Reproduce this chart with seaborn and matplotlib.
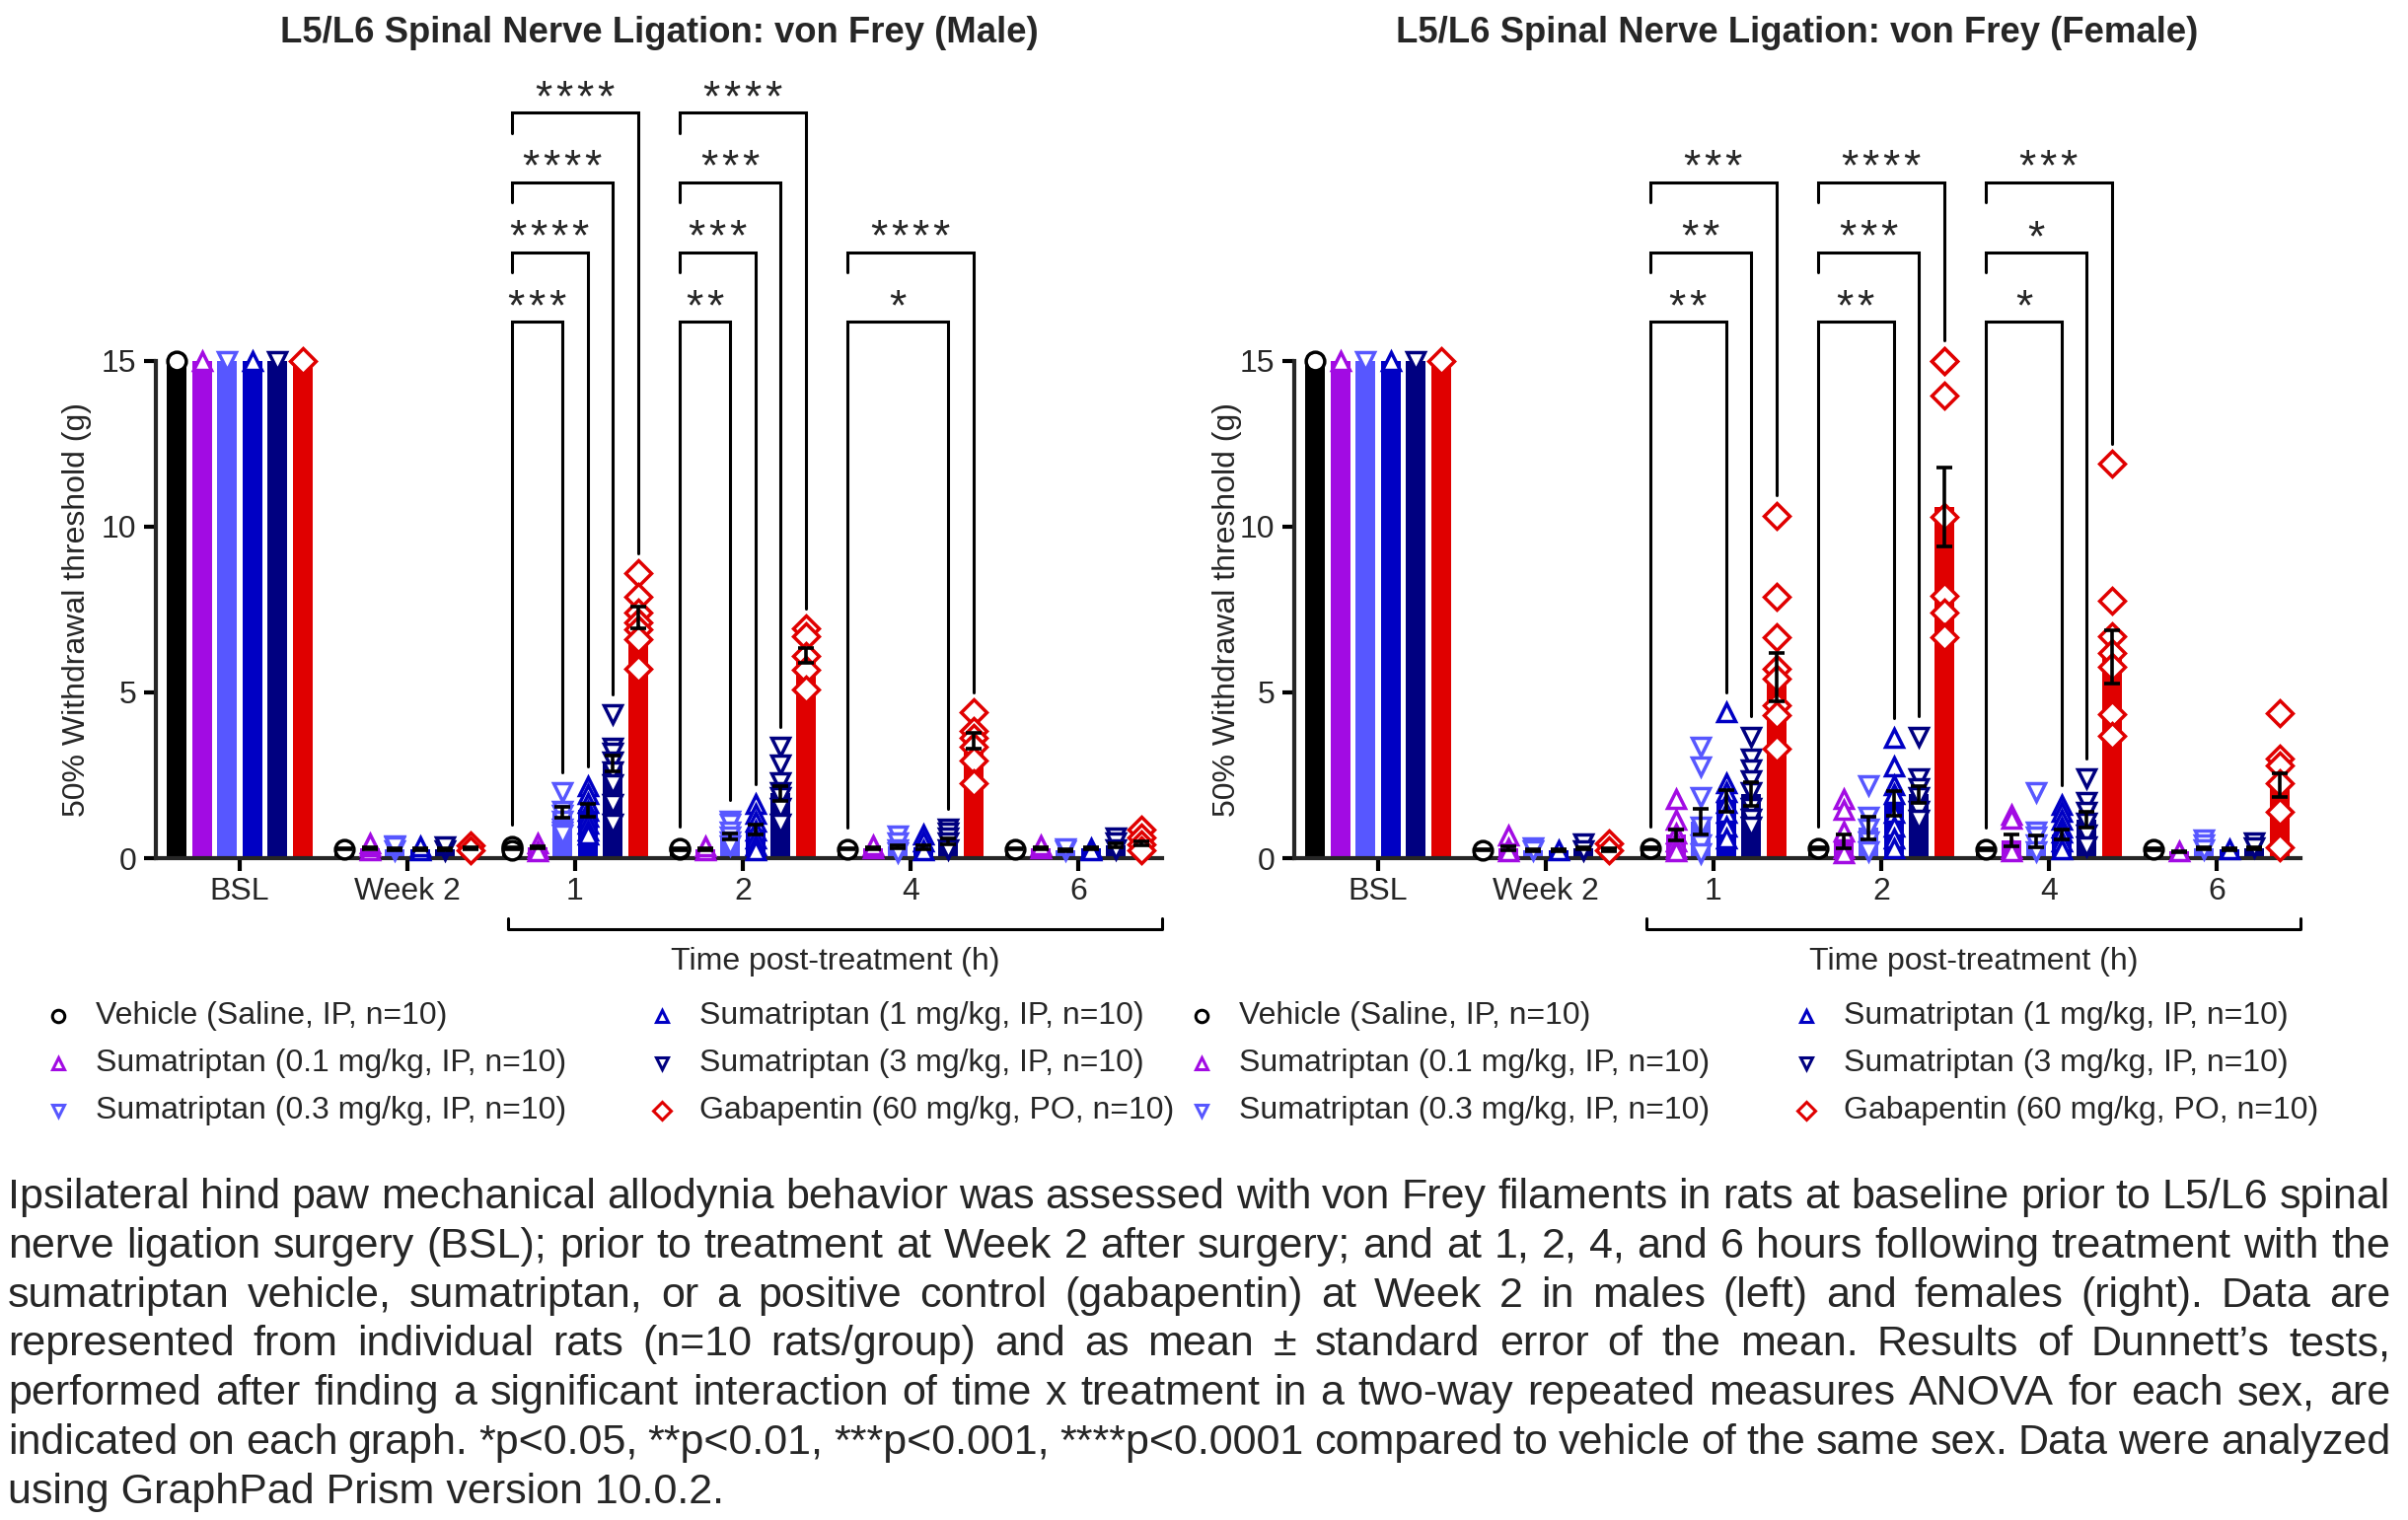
"""SNL von Frey figure: male and female panels with caption."""

import numpy as np
import pandas as pd
import matplotlib
matplotlib.use("Agg")
import matplotlib.pyplot as plt
import matplotlib.transforms as mtransforms
from matplotlib.lines import Line2D
import seaborn as sns

# ── data ─────────────────────────────────────────────────────────────────

TIMES = ["BSL", "Week 2", "1", "2", "4", "6"]
GROUPS = [
    "Vehicle (Saline, IP, n=10)",
    "Sumatriptan (0.1 mg/kg, IP, n=10)",
    "Sumatriptan (0.3 mg/kg, IP, n=10)",
    "Sumatriptan (1 mg/kg, IP, n=10)",
    "Sumatriptan (3 mg/kg, IP, n=10)",
    "Gabapentin (60 mg/kg, PO, n=10)",
]
COLORS = ["#000000", "#A20BE3", "#5757FF", "#0000C4", "#000080", "#E00000"]
MARKERS = ["o", "^", "v", "^", "v", "D"]

# rows = groups, columns = time points
male_mean = [
    [15, 0.28, 0.30, 0.27, 0.28, 0.28],
    [15, 0.30, 0.32, 0.27, 0.30, 0.30],
    [15, 0.28, 1.38, 0.65, 0.35, 0.25],
    [15, 0.27, 1.45, 0.85, 0.33, 0.30],
    [15, 0.28, 2.85, 1.95, 0.50, 0.38],
    [15, 0.30, 7.25, 6.10, 3.55, 0.45],
]
male_sem = [
    [0, 0.02, 0.03, 0.02, 0.02, 0.02],
    [0, 0.03, 0.03, 0.02, 0.03, 0.03],
    [0, 0.03, 0.17, 0.08, 0.05, 0.03],
    [0, 0.02, 0.20, 0.15, 0.05, 0.03],
    [0, 0.03, 0.24, 0.22, 0.08, 0.06],
    [0, 0.04, 0.32, 0.22, 0.24, 0.07],
]
male_points = [
    [[15], [0.28], [0.30, 0.35, 0.25], [0.27, 0.30], [0.28], [0.28]],
    [[15], [0.25, 0.35, 0.45], [0.30, 0.45, 0.20], [0.25, 0.35], [0.30, 0.40], [0.30, 0.40]],
    [[15], [0.25, 0.40, 0.35], [1.98, 1.43, 1.30, 1.14, 0.90, 0.80, 0.70],
     [1.14, 1.04, 0.80, 0.64, 0.50, 0.40], [0.67, 0.48, 0.28, 0.18], [0.25, 0.30]],
    [[15], [0.25, 0.35], [2.18, 1.93, 1.68, 1.43, 1.24, 1.04, 0.84, 0.70],
     [1.63, 1.34, 1.09, 0.84, 0.60, 0.40, 0.25], [0.72, 0.50, 0.25], [0.30, 0.25]],
    [[15], [0.25, 0.35], [4.33, 3.34, 3.17, 2.92, 2.62, 2.23, 1.63, 1.04],
     [3.37, 2.82, 2.28, 1.98, 1.83, 1.53, 1.04], [0.89, 0.77, 0.62, 0.48, 0.28], [0.62, 0.48, 0.28]],
    [[15], [0.40, 0.25], [8.60, 7.87, 7.40, 7.10, 6.90, 6.60, 5.70],
     [6.93, 6.68, 6.09, 5.69, 5.10], [4.39, 3.84, 3.64, 3.35, 2.95, 2.26], [0.87, 0.62, 0.43, 0.23]],
]

female_mean = [
    [15, 0.25, 0.30, 0.30, 0.28, 0.27],
    [15, 0.30, 0.70, 0.50, 0.53, 0.20],
    [15, 0.25, 1.10, 0.91, 0.50, 0.30],
    [15, 0.25, 1.73, 1.66, 0.71, 0.27],
    [15, 0.30, 1.94, 1.92, 1.16, 0.30],
    [15, 0.25, 5.46, 10.60, 6.06, 2.20],
]
female_sem = [
    [0, 0.02, 0.03, 0.03, 0.03, 0.02],
    [0, 0.05, 0.17, 0.20, 0.17, 0.02],
    [0, 0.03, 0.38, 0.34, 0.17, 0.04],
    [0, 0.03, 0.33, 0.37, 0.15, 0.03],
    [0, 0.04, 0.35, 0.26, 0.25, 0.03],
    [0, 0.04, 0.72, 1.19, 0.80, 0.35],
]
female_points = [
    [[15], [0.25], [0.30], [0.30], [0.28], [0.27]],
    [[15], [0.68, 0.30, 0.20], [1.78, 1.15, 0.73, 0.52, 0.30, 0.20],
     [1.78, 1.47, 0.79, 0.30, 0.15], [1.31, 1.20, 0.30, 0.20], [0.20]],
    [[15], [0.34, 0.25], [3.36, 2.78, 1.84, 0.94, 0.42, 0.16],
     [2.20, 1.26, 0.89, 0.50, 0.20], [2.00, 0.81, 0.66, 0.42, 0.22], [0.56, 0.42, 0.27]],
    [[15], [0.25], [4.40, 2.26, 1.99, 1.68, 1.36, 0.94, 0.58],
     [3.62, 2.78, 2.20, 1.94, 1.36, 0.94, 0.58, 0.31], [1.60, 1.40, 1.16, 0.91, 0.76, 0.51, 0.27], [0.27]],
    [[15], [0.45, 0.25], [3.67, 2.99, 2.68, 2.36, 1.99, 1.52, 1.20, 0.94],
     [3.67, 2.41, 2.10, 1.84, 1.42, 1.15], [2.40, 1.70, 1.41, 1.06, 0.71, 0.37], [0.47, 0.32]],
    [[15], [0.45, 0.25], [10.33, 7.89, 6.66, 5.72, 5.40, 4.62, 4.30, 3.30],
     [15.0, 15.0, 13.95, 10.30, 7.92, 7.40, 6.66], [11.90, 7.76, 6.70, 6.20, 5.76, 4.33, 3.68],
     [4.38, 2.99, 2.79, 2.25, 1.41, 0.34]],
]

# (time index, group index, label) - lowest bracket first within each time
male_sig = [
    (2, 2, "***"), (2, 3, "****"), (2, 4, "****"), (2, 5, "****"),
    (3, 2, "**"), (3, 3, "***"), (3, 4, "***"), (3, 5, "****"),
    (4, 4, "*"), (4, 5, "****"),
]
female_sig = [
    (2, 3, "**"), (2, 4, "**"), (2, 5, "***"),
    (3, 3, "**"), (3, 4, "***"), (3, 5, "****"),
    (4, 3, "*"), (4, 4, "*"), (4, 5, "***"),
]

CAPTION = [
    "Ipsilateral hind paw mechanical allodynia behavior was assessed with von Frey filaments in rats at baseline prior to L5/L6 spinal",
    "nerve ligation surgery (BSL); prior to treatment at Week 2 after surgery; and at 1, 2, 4, and 6 hours following treatment with the",
    "sumatriptan vehicle, sumatriptan, or a positive control (gabapentin) at Week 2 in males (left) and females (right). Data are",
    "represented from individual rats (n=10 rats/group) and as mean \u00b1 standard error of the mean. Results of Dunnett\u2019s tests,",
    "performed after finding a significant interaction of time x treatment in a two-way repeated measures ANOVA for each sex, are",
    "indicated on each graph. *p<0.05, **p<0.01, ***p<0.001, ****p<0.0001 compared to vehicle of the same sex. Data were analyzed",
    "using GraphPad Prism version 10.0.2.",
]

# ── style ────────────────────────────────────────────────────────────────

sns.set_theme(style="ticks")
plt.rcParams["font.family"] = ["Liberation Sans", "DejaVu Sans"]

FIG_W, FIG_H = 2441, 1541
LW = 2.2


def px(x, y):
    """Pixel position (from top-left) to figure fraction."""
    return x / FIG_W, 1 - y / FIG_H


def draw_panel(ax, mean, sem, points, sig, title, ylabel_x):
    df = pd.DataFrame(
        [{"time": t, "group": g, "mean": mean[gi][ti]}
         for gi, g in enumerate(GROUPS) for ti, t in enumerate(TIMES)]
    )
    sns.barplot(
        data=df, x="time", y="mean", hue="group",
        order=TIMES, hue_order=GROUPS, palette=dict(zip(GROUPS, COLORS)),
        width=0.9, gap=0.22, saturation=1, errorbar=None, linewidth=0,
        legend=False, ax=ax,
    )
    # bar centres straight from the drawn patches (time x group)
    centres = sorted(p.get_x() + p.get_width() / 2 for p in ax.patches)
    centres = np.array(centres).reshape(len(TIMES), len(GROUPS)).T

    for gi in range(len(GROUPS)):
        for ti in range(len(TIMES)):
            pts = points[gi][ti]
            ax.plot([centres[gi, ti]] * len(pts), pts, ls="none",
                    marker=MARKERS[gi], ms=13.5, mfc="white", mec=COLORS[gi],
                    mew=2.5, zorder=3, clip_on=False)
        keep = [ti for ti in range(len(TIMES)) if sem[gi][ti] > 0]
        ax.errorbar(centres[gi, keep], np.array(mean[gi])[keep],
                    yerr=np.array(sem[gi])[keep], fmt="none", ecolor="black",
                    elinewidth=2.6, capsize=6, capthick=2.6, zorder=4)

    # significance brackets
    base, step = 16.17, 2.1
    for ti in sorted({s[0] for s in sig}):
        rows = [s for s in sig if s[0] == ti]
        for k, (_, gi, label) in enumerate(rows):
            y = base + k * step
            xv, xg = centres[0, ti], centres[gi, ti]
            left_end = max(points[0][ti]) + 0.65 if k == 0 else y - 0.6
            right_end = max(points[gi][ti]) + 0.6
            ax.plot([xv, xv, xg, xg], [left_end, y, y, right_end],
                    color="black", lw=LW, solid_joinstyle="miter", zorder=2)
            ax.text((xv + xg) / 2, y + 0.05, "\u200a".join(label),
                    ha="center", va="baseline", fontsize=32)

    ax.set_xlim(-0.5, 5.5)
    ax.set_ylim(0, 24)
    ax.set_yticks([0, 5, 10, 15])
    ax.spines["left"].set_bounds(0, 15)
    for side in ("top", "right"):
        ax.spines[side].set_visible(False)
    for side in ("left", "bottom"):
        ax.spines[side].set_linewidth(3)
    ax.tick_params(width=3, length=9, labelsize=23, pad=5, color="black")
    ax.set_xlabel("")
    ax.set_ylabel("50% Withdrawal threshold (g)", fontsize=23, va="center")
    ax.yaxis.set_label_coords(ylabel_x, 15 / 24 / 2)

    ax.text(0.5, 1.036, title, transform=ax.transAxes, ha="center",
            va="center", fontsize=26.3, fontweight="bold")

    trans = mtransforms.blended_transform_factory(ax.transData, ax.transAxes)
    ax.plot([1.6, 1.6, 5.5, 5.5], [-0.076, -0.089, -0.089, -0.076],
            transform=trans, clip_on=False, color="black", lw=LW)
    ax.text(3.55, -0.130, "Time post-treatment (h)", transform=trans,
            ha="center", va="center", fontsize=23)


def draw_legend(fig, marker_x, text_x, row_y, entries):
    for (gi, label), y in zip(entries, row_y):
        fx, fy = px(marker_x, y)
        fig.add_artist(Line2D([fx], [fy], transform=fig.transFigure, ls="none",
                              marker=MARKERS[gi], ms=9, mfc="white",
                              mec=COLORS[gi], mew=2.2))
        tx, ty = px(text_x, y)
        fig.text(tx, ty, label, ha="left", va="center", fontsize=23)


def draw_caption(fig, lines, x0, x1, y0, step, size):
    renderer = fig.canvas.get_renderer()
    for i, line in enumerate(lines):
        y = 1 - (y0 + i * step) / FIG_H
        if i == len(lines) - 1:
            fig.text(x0 / FIG_W, y, line, ha="left", va="baseline", fontsize=size)
            continue
        words = line.split(" ")
        arts = [fig.text(0, y, w, ha="left", va="baseline", fontsize=size) for w in words]
        widths = [a.get_window_extent(renderer).width for a in arts]
        gap = ((x1 - x0) - sum(widths)) / (len(words) - 1)
        x = x0
        for a, w in zip(arts, widths):
            a.set_x(x / FIG_W)
            x += w + gap


fig = plt.figure(figsize=(FIG_W / 100, FIG_H / 100), dpi=100)
ax_m = fig.add_axes([158 / FIG_W, (FIG_H - 870) / FIG_H, 1020 / FIG_W, 807 / FIG_H])
ax_f = fig.add_axes([1312 / FIG_W, (FIG_H - 870) / FIG_H, 1020 / FIG_W, 807 / FIG_H])

draw_panel(ax_m, male_mean, male_sem, male_points, male_sig,
           "L5/L6 Spinal Nerve Ligation: von Frey (Male)", -0.078)
draw_panel(ax_f, female_mean, female_sem, female_points, female_sig,
           "L5/L6 Spinal Nerve Ligation: von Frey (Female)", -0.067)

rows = [1030, 1078, 1126]
col1 = [(0, GROUPS[0]), (1, GROUPS[1]), (2, GROUPS[2])]
col2 = [(3, GROUPS[3]), (4, GROUPS[4]), (5, GROUPS[5])]
draw_legend(fig, 59, 97, rows, col1)
draw_legend(fig, 671, 709, rows, col2)
draw_legend(fig, 1218, 1256, rows, col1)
draw_legend(fig, 1831, 1869, rows, col2)

draw_caption(fig, CAPTION, 8, 2423, 1225, 49.8, 31)

fig.savefig("out.png", dpi=100)
